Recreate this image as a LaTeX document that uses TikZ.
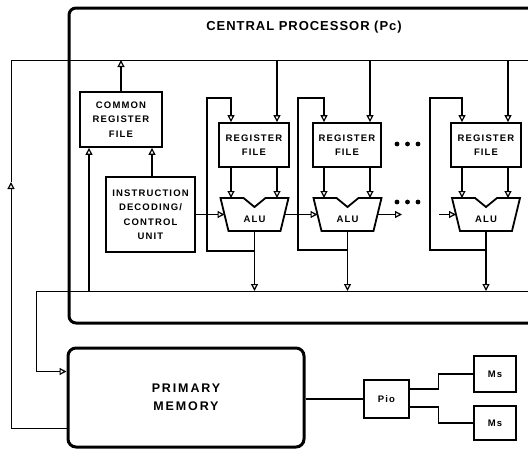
\documentclass[tikz,border=0pt]{standalone}
\usepackage{fontspec}
\setmainfont{Liberation Sans}
\newfontfamily\lblfont[LetterSpace=12]{Liberation Sans}
\newfontfamily\memfont[LetterSpace=15]{Liberation Sans}
\newfontfamily\ttlfont[LetterSpace=7.5]{Liberation Sans}
\usetikzlibrary{arrows.meta}
\tikzset{
  box/.style={draw, line width=1.8pt, inner sep=0pt, align=center,
    font=\lblfont\bfseries\fontsize{9.5}{14.5}\selectfont},
  smallbox/.style={draw, line width=2.4pt, inner sep=0pt,
    font=\lblfont\bfseries\fontsize{9.5}{12}\selectfont},
  bigbox/.style={draw, line width=3pt, rounded corners=8pt, inner sep=0pt, align=center,
    font=\memfont\bfseries\fontsize{12.5}{18}\selectfont},
  conn/.style={line width=1.2pt},
  bus/.style={line width=1pt},
  arr/.style={-{Triangle[open,length=7pt,width=7pt,line width=1.2pt]}},
  pics/alu/.style={code={
    \draw[line width=1.8pt, line join=miter]
      (-34,-16.5) -- (-11,-16.5) -- (0,-7.5) -- (11,-16.5) -- (34,-16.5)
      -- (26,16.5) -- (-26,16.5) -- cycle;
    \node[font=\lblfont\bfseries\fontsize{9.5}{12}\selectfont] (-lbl) at (0,4.5) {ALU};
    \coordinate (-in) at (-30,0);
    \coordinate (-out) at (30,0);
    \coordinate (-s) at (0,16.5);
    \coordinate (-tl) at (-23,-16.5);
    \coordinate (-tr) at (23,-16.5);
  }}
}
\begin{document}
\begin{tikzpicture}[x=1pt,y=-1pt]
\useasboundingbox (0,0) rectangle (528,450);
\clip (0,0) rectangle (528,450);

% central processor frame (open to the right)
\draw[line width=3pt, rounded corners=7pt] (532,8) -- (69,8) -- (69,323) -- (532,323);
\node[font=\ttlfont\bfseries\fontsize{13}{15}\selectfont] (title) at (304,27) {CENTRAL PROCESSOR (Pc)};

% buses
\coordinate (ubL) at (11,60);
\coordinate (ubR) at (530,60);
\coordinate (lbL) at (36,291);
\coordinate (lbR) at (530,291);
\coordinate (lp) at (11,182);
\coordinate (crfin) at (89,291);

% boxes
\node[box, minimum width=82, minimum height=55] (crf) at (121,119.5) {COMMON\\REGISTER\\FILE};
\node[box, minimum width=89, minimum height=75] (idc) at (150.5,214.5) {INSTRUCTION\\DECODING/\\CONTROL\\UNIT};
\node[box, minimum width=70, minimum height=44] (rf1) at (254,145) {REGISTER\\FILE};
\node[box, minimum width=68, minimum height=44] (rf2) at (347,145) {REGISTER\\FILE};
\node[box, minimum width=70, minimum height=44] (rf3) at (486,145) {REGISTER\\FILE};

\pic (a1) at (254.5,214.5) {alu};
\pic (a2) at (347.5,214.5) {alu};
\pic (a3) at (486,214.5) {alu};

\node[bigbox, minimum width=236, minimum height=99] (mem) at (186,397.5) {PRIMARY\\MEMORY};
\node[smallbox, minimum width=45, minimum height=38] (pio) at (386.5,399) {Pio};
\node[smallbox, minimum width=42, minimum height=36] (ms1) at (495,374) {Ms};
\node[smallbox, minimum width=42, minimum height=34] (ms2) at (495,423) {Ms};

% upper bus and left loop
\draw[bus] (lp) -- (ubL) -- (ubR);
\draw[bus,arr] ([yshift=20]mem.south west) -| (lp);

% lower bus and link into memory
\draw[bus] (lbR) -- (lbL);
\draw[bus,arr] (lbL) |- ([yshift=26]mem.west);

% common register file links
\draw[conn,arr] (crf.north) -- (crf.north |- ubL);
\draw[conn,arr] (crfin) -- (crfin |- crf.south);
\draw[conn,arr] ([xshift=1.5]idc.north) -- ([xshift=1.5]idc.north |- crf.south);
\draw[conn,arr] (idc.east |- a1-in) -- (a1-in);

% bus drops into register files
\draw[conn,arr] ([xshift=23]rf1.north |- ubL) -- ([xshift=23]rf1.north);
\draw[conn,arr] ([xshift=23]rf2.north |- ubL) -- ([xshift=23]rf2.north);
\draw[conn,arr] ([xshift=22]rf3.north |- ubL) -- ([xshift=22]rf3.north);

% register file to ALU
\draw[conn,arr] ([xshift=-23]rf1.south) -- ([xshift=-23]rf1.south |- a1-tl);
\draw[conn,arr] ([xshift=23]rf1.south) -- ([xshift=23]rf1.south |- a1-tr);
\draw[conn,arr] ([xshift=-23]rf2.south) -- ([xshift=-23]rf2.south |- a2-tl);
\draw[conn,arr] ([xshift=23]rf2.south) -- ([xshift=23]rf2.south |- a2-tr);
\draw[conn,arr] ([xshift=-24]rf3.south) -- ([xshift=-24]rf3.south |- a3-tl);
\draw[conn,arr] ([xshift=22]rf3.south) -- ([xshift=22]rf3.south |- a3-tr);

% ALU outputs to lower bus
\draw[conn,arr] (a1-s) -- (a1-s |- lbL);
\draw[conn,arr] (a2-s) -- (a2-s |- lbL);
\draw[conn,arr] (a3-s) -- (a3-s |- lbL);

% feedback loops
\draw[conn,arr] ([yshift=-20]a1-s) -| (207,98) -| ([xshift=-23]rf1.north);
\draw[conn,arr] ([yshift=-19]a2-s) -| (298,98) -| ([xshift=-23]rf2.north);
\draw[conn,arr] ([yshift=-19]a3-s) -| (430,98) -| ([xshift=-24]rf3.north);

% ALU chain
\coordinate (a2x) at (402,214.5);
\coordinate (a3x) at (439,214.5);
\draw[conn,arr] (a1-out) -- (a2-in);
\draw[conn,arr] (a2-out) -- (a2x);
\draw[conn,arr] (a3x) -- (a3-in);

% ellipsis dots
\foreach \x in {397,407.5,418} {
  \fill (\x,144) circle (2.4);
  \fill (\x,202) circle (2.4);
}

% memory, processor I/O, secondary memories
\draw[conn] (pio.west -| mem.east) -- (pio.west);
\draw[conn] ([yshift=10]pio.east) -- ++(28,0) |- (ms1.west);
\draw[conn] ([yshift=-8]pio.east) -- ++(28,0) |- (ms2.west);
\end{tikzpicture}
\end{document}
